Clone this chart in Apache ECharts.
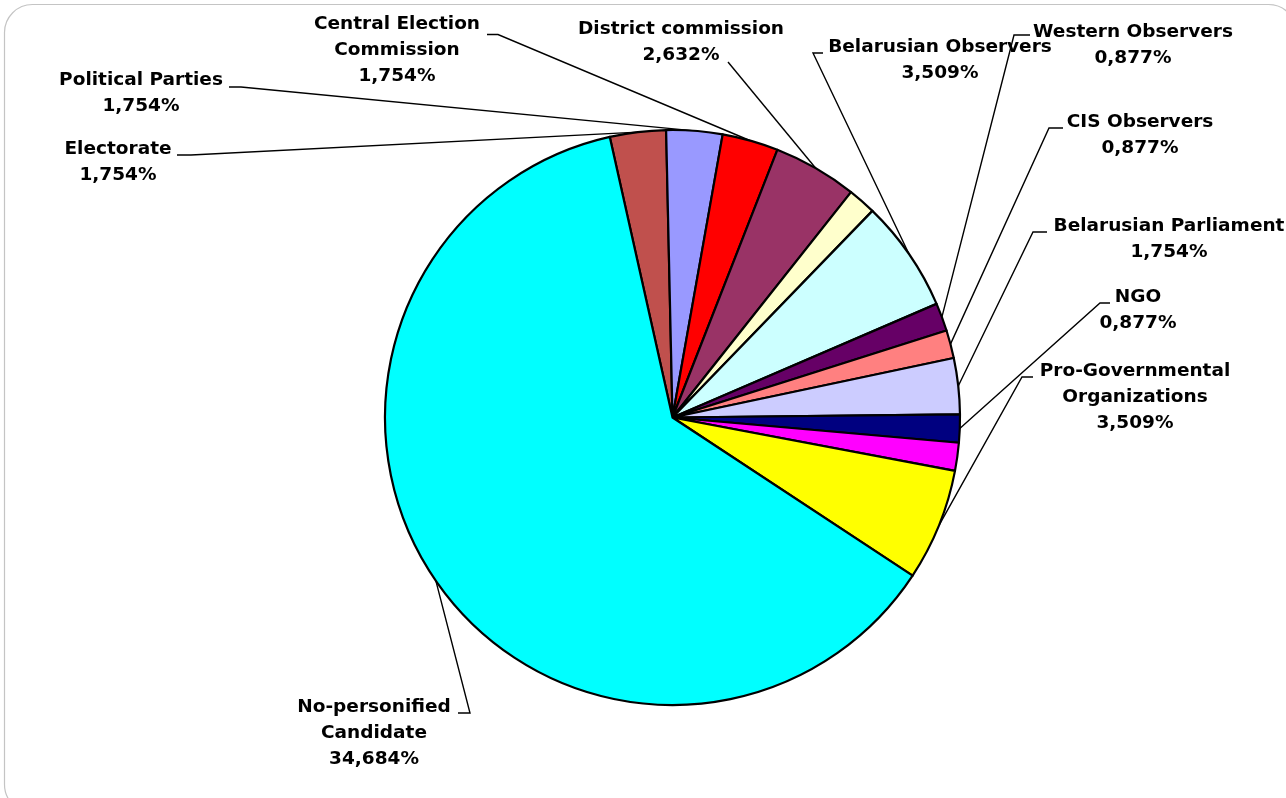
<!DOCTYPE html>
<html>
<head>
<meta charset="utf-8">
<title>Actors mentioned</title>
<script src="https://cdn.jsdelivr.net/npm/echarts@6/dist/echarts.min.js"></script>
<style>
  html, body { margin: 0; padding: 0; background: #ffffff; }
  #chart { width: 1286px; height: 798px; }
</style>
</head>
<body>
<div id="chart"></div>
<script>
// Slice names, in clockwise order (line breaks are where the label wraps)
const categories = [
  'Electorate',
  'Political Parties',
  'Central Election\nCommission',
  'District commission',
  'Other (1)',
  'Belarusian Observers',
  'Western Observers',
  'CIS Observers',
  'Belarusian Parliament',
  'NGO',
  'Other (2)',
  'Pro-Governmental\nOrganizations',
  'No-personified\nCandidate'
];

// Share of each actor, in percent
const shares = [1.754, 1.754, 1.754, 2.632, 0.877, 3.509, 0.877, 0.877, 1.754, 0.877, 0.877, 3.509, 34.684];

// Which slices carry a label
const labelled = [true, true, true, true, false, true, true, true, true, true, false, true, true];

// Slice fill colours
const palette = [
  '#C0504D', '#9999FF', '#FF0000', '#993366', '#FFFFCC', '#CCFFFF',
  '#660066', '#FF8080', '#CCCCFF', '#000080', '#FF00FF', '#FFFF00', '#00FFFF'
];

// Label placement: block centre (x, y), leader attach point (ax, ay), horizontal stub length
const labelSpots = {
  0:  { x: 118,  y: 162,   ax: 177,  ay: 155, stub: 14 },
  1:  { x: 141,  y: 93,    ax: 229,  ay: 87,  stub: 12 },
  2:  { x: 397,  y: 50.5,  ax: 487,  ay: 34.5, stub: 11 },
  3:  { x: 681,  y: 42,    ax: 728,  ay: 62,  stub: 0 },
  5:  { x: 940,  y: 60,    ax: 823,  ay: 53,  stub: -10 },
  6:  { x: 1133, y: 45,    ax: 1030, ay: 35,  stub: -16 },
  7:  { x: 1140, y: 135,   ax: 1063, ay: 128, stub: -14 },
  8:  { x: 1169, y: 239.5, ax: 1047, ay: 232, stub: -14 },
  9:  { x: 1138, y: 310,   ax: 1110, ay: 303, stub: -10 },
  11: { x: 1135, y: 397,   ax: 1033, ay: 377, stub: -11 },
  12: { x: 374,  y: 733,   ax: 458,  ay: 713, stub: 12 }
};

function formatShare(v) {
  return v.toFixed(3).replace('.', ',') + '%';
}

const pieData = categories.map(function (name, i) {
  return {
    name: name,
    value: shares[i],
    itemStyle: { color: palette[i] },
    label: { show: labelled[i] },
    labelLine: { show: labelled[i] }
  };
});

const chart = echarts.init(document.getElementById('chart'), null, { renderer: 'canvas' });

chart.setOption({
  animation: false,
  backgroundColor: '#ffffff',
  graphic: [{
    type: 'rect',
    silent: true,
    z: -1,
    shape: { x: 4.5, y: 4.5, width: 1292, height: 808, r: 28 },
    style: { fill: 'none', stroke: '#c4c4c4', lineWidth: 1.2 }
  }],
  series: [{
    type: 'pie',
    center: [672.5, 417.5],
    radius: 287.5,
    startAngle: 102.6,
    clockwise: true,
    avoidLabelOverlap: false,
    itemStyle: { borderColor: '#000000', borderWidth: 2.2 },
    emphasis: { disabled: true },
    label: {
      position: 'outside',
      color: '#000000',
      fontFamily: 'DejaVu Sans',
      fontWeight: 'bold',
      fontSize: 18.5,
      lineHeight: 26,
      align: 'center',
      formatter: function (p) {
        return categories[p.dataIndex] + '\n' + formatShare(p.value);
      }
    },
    labelLine: {
      length: 20,
      length2: 12,
      lineStyle: { color: '#000000', width: 1.4 }
    },
    labelLayout: function (params) {
      const s = labelSpots[params.dataIndex];
      if (!s || !params.labelLinePoints) return {};
      const start = params.labelLinePoints[0];
      return {
        x: s.x,
        y: s.y,
        align: 'center',
        verticalAlign: 'middle',
        labelLinePoints: [start, [s.ax + s.stub, s.ay], [s.ax, s.ay]]
      };
    },
    data: pieData
  }]
});
</script>
</body>
</html>
